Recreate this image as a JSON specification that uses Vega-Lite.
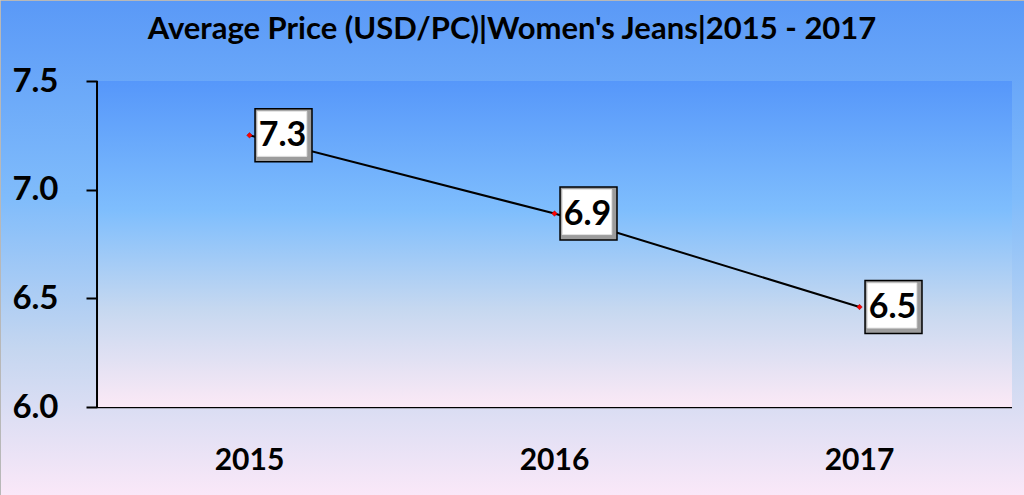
{
  "$schema": "https://vega.github.io/schema/vega-lite/v6.json",
  "width": 1024,
  "height": 495,
  "autosize": {"type": "none"},
  "padding": 0,
  "background": "#ffffff",
  "config": {
    "view": {
      "fill": {"gradient": "linear", "x1": 0, "y1": 0, "x2": 0, "y2": 1,
        "stops": [{"offset": 0, "color": "#5a99f7"}, {"offset": 0.4, "color": "#80bcfb"}, {"offset": 0.7, "color": "#c4d6f0"}, {"offset": 1, "color": "#fae8f8"}]},
      "stroke": "#b8b8b8",
      "strokeWidth": 1
    }
  },
  "title": {
    "text": "Average Price (USD/PC)|Women's Jeans|2015 - 2017",
    "font": "Lato", "fontWeight": "bold", "fontSize": 31, "color": "black",
    "anchor": "middle", "frame": "group", "offset": -70, "baseline": "alphabetic"
  },
  "data": {"values": [
    {"year": "2015", "price": 7.25},
    {"year": "2016", "price": 6.89},
    {"year": "2017", "price": 6.46}
  ]},
  "encoding": {
    "x": {"field": "year", "type": "ordinal",
      "scale": {"type": "band", "paddingInner": 0, "paddingOuter": 0.1787, "align": 0.89},
      "axis": {"orient": "bottom", "offset": -88, "domain": false, "ticks": false, "tickSize": 0, "labelAngle": 0,
        "labelFont": "Lato", "labelFontWeight": "bold", "labelFontSize": 30, "labelColor": "black",
        "labelPadding": 38, "title": null, "grid": false}},
    "y": {"field": "price", "type": "quantitative",
      "scale": {"domain": [5.5951, 7.8727], "nice": false, "zero": false},
      "axis": {"orient": "left", "offset": -97, "values": [6, 6.5, 7, 7.5], "format": ".1f", "domain": false,
        "ticks": true, "tickColor": "black", "tickWidth": 2, "tickSize": 11,
        "labelFont": "Lato", "labelFontWeight": "bold", "labelFontSize": 33, "labelColor": "black",
        "labelPadding": 28, "grid": false, "title": null}}
  },
  "layer": [
    {
      "mark": {"type": "rect", "fill": {"gradient": "linear", "x1": 0, "y1": 0, "x2": 0, "y2": 1,
        "stops": [{"offset": 0, "color": "#5697fa"}, {"offset": 0.4, "color": "#7fbefd"}, {"offset": 0.7, "color": "#c6d8f0"}, {"offset": 1, "color": "#fbe9f6"}]}},
      "encoding": {"y": {"datum": 6}, "y2": {"datum": 7.5}}
    },
    {
      "mark": {"type": "rect", "fill": "#8a8a9a", "opacity": 0.6, "yOffset": 2},
      "encoding": {"y": {"datum": 6}, "y2": {"datum": 5.9954}}
    },
    {
      "mark": {"type": "rect", "fill": "black"},
      "encoding": {"y": {"datum": 6}, "y2": {"datum": 5.9954}}
    },
    {
      "transform": [{"filter": "datum.year == '2015'"}],
      "mark": {"type": "rule", "stroke": "black", "strokeWidth": 2},
      "encoding": {"x": {"field": "year", "type": "ordinal", "bandPosition": 0}, "y": {"datum": 6}, "y2": {"datum": 7.5}}
    },
    {
      "mark": {"type": "line", "stroke": "black", "strokeWidth": 2}
    },
    {
      "mark": {"type": "point", "shape": "diamond", "filled": true, "fill": "#ff0000", "stroke": "#a00000", "strokeWidth": 0.5, "size": 30, "opacity": 1}
    },
    {
      "mark": {"type": "point", "shape": "M-1.075,-1L1.075,-1L1.075,1L-1.075,1Z", "filled": true, "fill": "#9c9c9c", "stroke": "black", "strokeWidth": 1.5, "size": 2809, "xOffset": 34, "opacity": 1}
    },
    {
      "mark": {"type": "point", "shape": "M-1.1,-1L1.1,-1L1.1,1L-1.1,1Z", "filled": true, "fill": "#ffffff", "stroke": "#e4e4e4", "strokeWidth": 1, "size": 2025, "xOffset": 32.5, "yOffset": -1.5, "opacity": 1}
    },
    {
      "mark": {"type": "text", "font": "Lato", "fontWeight": "bold", "fontSize": 34, "color": "black", "align": "center", "baseline": "middle", "xOffset": 33, "yOffset": 1},
      "encoding": {"text": {"field": "price", "type": "quantitative", "format": ".1f"}}
    }
  ]
}
